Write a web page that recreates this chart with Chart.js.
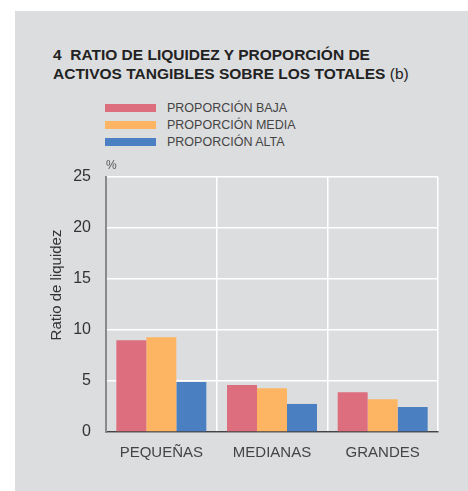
<!DOCTYPE html>
<html>
<head>
<meta charset="utf-8">
<script src="https://cdn.jsdelivr.net/npm/chart.js@4"></script>
<style>
  html, body { margin: 0; padding: 0; background: #fff; }
  body { width: 468px; height: 491px; position: relative; overflow: hidden;
         font-family: "Liberation Sans", Arial, sans-serif; }
  #panel { position: absolute; left: 15px; top: 11px; width: 453px; height: 480px; background: #dcdddf; }
  #title { position: absolute; left: 53px; top: 46px; font-size: 15.5px; line-height: 18.5px;
           font-weight: bold; color: #222; white-space: nowrap; }
  #title .nb { font-weight: normal; }
  #legend { position: absolute; left: 105px; top: 99px; }
  .item { height: 17px; display: flex; align-items: center; font-size: 12.5px; color: #444; }
  .box { width: 51px; height: 8px; margin-right: 11px; }
  #wrap { position: absolute; left: 0; top: 0; width: 468px; height: 491px; }
</style>
</head>
<body>
<div id="panel"></div>
<div id="title">4&nbsp;&nbsp;RATIO DE LIQUIDEZ Y PROPORCIÓN DE<br>ACTIVOS TANGIBLES SOBRE LOS TOTALES <span class="nb">(b)</span></div>
<div id="legend"></div>
<div id="wrap"><canvas id="chart" width="468" height="491"></canvas></div>
<script>
// Datos
const categories = ['PEQUEÑAS', 'MEDIANAS', 'GRANDES'];
const seriesNames = ['PROPORCIÓN BAJA', 'PROPORCIÓN MEDIA', 'PROPORCIÓN ALTA'];
const baja  = [9.0, 4.6, 3.9];
const media = [9.3, 4.3, 3.2];
const alta  = [4.9, 2.75, 2.45];
const yTicks = [0, 5, 10, 15, 20, 25];

const COLORS = ['#dc6e7e', '#fdb563', '#4a7fc1'];
const FONT = '"Liberation Sans", Arial, sans-serif';

// Leyenda en HTML
const legend = document.getElementById('legend');
seriesNames.forEach((name, i) => {
  const row = document.createElement('div');
  row.className = 'item';
  row.innerHTML = '<span class="box" style="background:' + COLORS[i] + '"></span>' + name;
  legend.appendChild(row);
});

// Rótulos extra: "%" y título del eje Y
const extraText = {
  id: 'extraText',
  afterDraw(chart) {
    const { ctx, chartArea } = chart;
    ctx.save();
    ctx.fillStyle = '#555';
    ctx.font = '12px ' + FONT;
    ctx.textAlign = 'left';
    ctx.textBaseline = 'bottom';
    ctx.fillText('%', chartArea.left, chartArea.top - 5);
    ctx.fillStyle = '#333';
    ctx.font = '15px ' + FONT;
    ctx.translate(57, 285);
    ctx.rotate(-Math.PI / 2);
    ctx.textAlign = 'center';
    ctx.textBaseline = 'middle';
    ctx.fillText('Ratio de liquidez', 0, 0);
    ctx.restore();
  }
};

new Chart(document.getElementById('chart'), {
  type: 'bar',
  data: {
    labels: categories,
    datasets: [baja, media, alta].map((d, i) => ({
      label: seriesNames[i],
      data: d,
      backgroundColor: COLORS[i],
      borderWidth: 0,
      categoryPercentage: 0.813,
      barPercentage: 1,
    })),
  },
  options: {
    responsive: false,
    animation: false,
    layout: { padding: { left: 0, top: 177, right: 30, bottom: 0 } },
    plugins: { legend: { display: false }, tooltip: { enabled: false } },
    scales: {
      x: {
        afterFit(s) { s.height = 59; },
        grid: { color: '#ffffff', lineWidth: 1.5, drawTicks: false, offset: true },
        border: { color: '#444', width: 1.5 },
        ticks: { color: '#444', font: { family: FONT, size: 15 }, padding: 12 },
      },
      y: {
        min: 0, max: 25,
        afterFit(s) { s.width = 106; },
        afterBuildTicks(s) { s.ticks = yTicks.map(v => ({ value: v })); },
        grid: { color: '#ffffff', lineWidth: 1.5, drawTicks: false },
        border: { color: '#8a8a8a', width: 2 },
        ticks: { color: '#333', font: { family: FONT, size: 16 }, padding: 15 },
      },
    },
  },
  plugins: [extraText],
});
</script>
</body>
</html>
